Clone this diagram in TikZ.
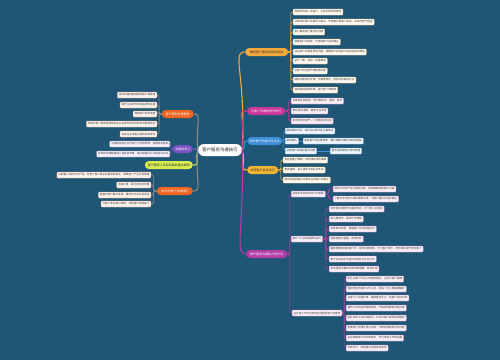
\documentclass[tikz,border=0pt]{standalone}
\usepackage{fontspec}
\setmainfont{Noto Sans CJK SC}
\definecolor{bg}{HTML}{1F5675}
\definecolor{cO}{HTML}{F2A73B}
\definecolor{cM}{HTML}{C9379A}
\definecolor{cB}{HTML}{3D8FD8}
\definecolor{cY}{HTML}{F3B534}
\definecolor{cP}{HTML}{B43DA8}
\definecolor{cR}{HTML}{F06522}
\definecolor{cV}{HTML}{7B52C4}
\definecolor{cG}{HTML}{D8EB4F}
\definecolor{cL}{HTML}{8E8A86}
\begin{document}
\begin{tikzpicture}[x=1pt,y=-1pt,
 leaf/.style={draw=#1!60, line width=0.25pt, fill=#1!8!white, rounded corners=0.8pt, inner xsep=1.5pt, inner ysep=0pt, minimum height=6pt, font=\fontsize{2.6}{3}\selectfont, text=black!75},
 mainnode/.style={fill=#1, rounded corners=4pt, inner xsep=2.5pt, inner ysep=0pt, minimum height=8pt, font=\fontsize{3}{4}\selectfont, text=white},
 br/.style={draw=#1, line width=0.6pt, rounded corners=1.5pt},
 lk/.style={draw=#1, line width=1.1pt}]
\useasboundingbox (0,0) rectangle (500,360);
\fill[bg] (0,0) rectangle (500,360);

% center
\node[fill=white, rounded corners=6pt, minimum height=12pt, minimum width=44pt, inner sep=1pt, font=\fontsize{4.4}{5}\selectfont, text=black!85] (C) at (220,150) {客户服务沟通技巧};

% main nodes right
\node[mainnode=cO, text=black!80, anchor=west, minimum width=43pt] (O) at (245,52) {做好客户服务的基本原则};
\node[mainnode=cM, anchor=west, minimum width=38pt] (M) at (247,111) {与客户沟通的语言技巧};
\node[mainnode=cB, anchor=west, minimum width=35pt] (B) at (247,141) {倾听客户的技巧与方法};
\node[mainnode=cY, text=black!80, anchor=west, minimum width=31pt] (Y) at (247,170) {处理客户投诉技巧};
\node[mainnode=cP, anchor=west, minimum width=41pt] (P) at (246,254) {提升服务沟通能力的方法};
% main nodes left
\node[mainnode=cR, anchor=east, minimum width=32pt] (R) at (194,114) {客户服务的重要性};
\node[mainnode=cV, anchor=east, minimum width=20pt] (V) at (193,149) {沟通的意义};
\node[mainnode=cG, text=black!80, anchor=east, minimum width=48pt] (G) at (193,165) {客户服务人员应具备的基本素质};
\node[mainnode=cR, anchor=east, minimum width=36pt] (L) at (193,191) {常见的客户沟通误区};

% center links
\draw[lk=cO] (C.east) .. controls +(4,-75) and +(-14,0) .. (O.west);
\draw[lk=cM] (C.east) .. controls +(4,-35) and +(-12,0) .. (M.west);
\draw[lk=cB] (C.east) .. controls +(5,-5) and +(-5,0) .. (B.west);
\draw[lk=cY] (C.east) .. controls +(4,14) and +(-8,0) .. (Y.west);
\draw[lk=cP] (C.east) .. controls +(2,80) and +(-12,0) .. (P.west);
\draw[lk=cL] (C.west) .. controls +(-2,-28) and +(8,0) .. (R.east);
\draw[lk=cV] (C.west) -- (V.east);
\draw[lk=cG] (C.west) .. controls +(-3,12) and +(8,0) .. (G.east);
\draw[lk=cL] (C.west) .. controls +(-3,32) and +(10,0) .. (L.east);

% orange top leaves
\node[leaf=cO, anchor=west] (o1) at (293,12) {热情对待每一位客户，主动问候保持微笑};
\node[leaf=cO, anchor=west] (o2) at (293,22) {认真倾听客户的需求与意见，不随意打断客户讲话，并及时给予回应};
\node[leaf=cO, anchor=west] (o3) at (293,32) {耐心解答客户提出的问题};
\node[leaf=cO, anchor=west] (o4) at (293,42) {尊重客户的选择，不强迫客户接受建议};
\node[leaf=cO, anchor=west] (o5) at (293,52) {站在客户的角度思考问题，理解客户的感受与处境并提供帮助};
\node[leaf=cO, anchor=west] (o6) at (293,61) {言行一致，说到一定要做到};
\node[leaf=cO, anchor=west] (o7) at (293,71) {对客户的信息严格保密处理};
\node[leaf=cO, anchor=west] (o8) at (293,80) {遇到问题及时反馈，不推诿责任，积极寻找解决办法};
\node[leaf=cO, anchor=west] (o9) at (293,90) {持续跟进服务效果，提升客户满意度};
\foreach \i in {1,...,9} \draw[br=cO] (O.east) -- ++(2.5,0) |- (o\i.west);

% magenta leaves
\node[leaf=cM, anchor=west] (m1) at (291,101) {多使用礼貌用语，语气要亲切、温和、自然};
\node[leaf=cM, anchor=west] (m2) at (291,111) {表达简洁清晰，避免专业术语};
\node[leaf=cM, anchor=west] (m3) at (291,121) {多用肯定的语气，少用否定的词语};
\foreach \i in {1,2,3} \draw[br=cM] (M.east) -- ++(3,0) |- (m\i.west);

% blue leaves
\node[leaf=cB, anchor=west] (b1) at (285,131) {保持眼神交流，适时点头表示在认真倾听};
\node[leaf=cB, anchor=west] (b2) at (285,141) {复述确认};
\node[leaf=cB, anchor=west] (b3) at (285,151) {记录客户反映的重点问题};
\node[leaf=cB, anchor=west] (b2c) at (303,141) {复述客户的主要意思，确认理解正确无误后再回复};
\node[leaf=cB, anchor=west] (b3c) at (330,151) {便于后续跟进与及时处理};
\foreach \i in {1,2,3} \draw[br=cB] (B.east) -- ++(1.5,0) |- (b\i.west);
\draw[br=cB] (b2.east) -- (b2c.west);
\draw[br=cB] (b3.east) -- (b3c.west);

% yellow leaves
\node[leaf=cY, anchor=west] (y1) at (283,160) {先处理客户情绪，再处理具体的事情};
\node[leaf=cY, anchor=west] (y2) at (283,170) {真诚道歉，承认服务中存在的不足};
\node[leaf=cY, anchor=west] (y3) at (283,180) {提出合理的解决方案并征求客户的意见};
\foreach \i in {1,2,3} \draw[br=cY] (Y.east) -- ++(2.5,0) |- (y\i.west);

% bottom purple
\node[leaf=cP, anchor=west] (s1) at (291,194) {加强专业知识的学习与积累};
\node[leaf=cP, anchor=west] (s2) at (291,239) {提升个人的沟通表达能力};
\node[leaf=cP, anchor=west] (s3) at (292,313) {在日常工作中培养良好的服务意识与素养};
\foreach \i in {1,2,3} \draw[br=cP] (P.east) -- ++(2.5,0) |- (s\i.west);

\node[leaf=cP, anchor=west] (a1) at (333,189) {熟悉公司的产品与服务内容，能够准确回答客户问题};
\node[leaf=cP, anchor=west] (a2) at (333,199) {了解行业动态与相关政策法规，为客户提供专业的建议};
\foreach \i in {1,2} \draw[br=cP] (s1.east) -- ++(3,0) |- (a\i.west);

\node[leaf=cP, anchor=west] (e1) at (329,209) {多参加沟通技巧方面的培训，学习他人的经验};
\node[leaf=cP, anchor=west] (e2) at (329,219) {练习普通话，保持吐字清晰};
\node[leaf=cP, anchor=west] (e3) at (329,229) {学会察言观色，根据客户反应调整方式};
\node[leaf=cP, anchor=west] (e4) at (329,239) {控制语速与音量，语调平和};
\node[leaf=cP, anchor=west] (e5) at (329,249) {遇到情绪激动的客户时，保持冷静克制，不与客户争吵，用平和的语气安抚客户};
\node[leaf=cP, anchor=west] (e6) at (329,259) {善于总结每次沟通中的得失与不足之处};
\node[leaf=cP, anchor=west] (e7) at (329,269) {多向经验丰富的优秀同事请教，取长补短};
\foreach \i in {1,...,7} \draw[br=cP] (s2.east) -- ++(3,0) |- (e\i.west);

\node[leaf=cP, anchor=west] (d1) at (346,279) {树立以客户为中心的服务理念，主动为客户着想};
\node[leaf=cP, anchor=west] (d2) at (346,289) {保持积极乐观的工作心态，把每一件小事做细做好};
\node[leaf=cP, anchor=west] (d3) at (346,298) {注意个人仪容仪表，着装整洁大方，给客户良好印象};
\node[leaf=cP, anchor=west] (d4) at (346,308) {遵守公司的各项规章制度，严格按照服务流程办事};
\node[leaf=cP, anchor=west] (d5) at (346,318) {团队成员之间互相配合，共同为客户提供优质服务};
\node[leaf=cP, anchor=west] (d6) at (346,328) {定期进行自我反思与总结，不断改进服务中的问题};
\node[leaf=cP, anchor=west] (d7) at (346,338) {主动收集客户的反馈意见，作为改进工作的依据};
\node[leaf=cP, anchor=west] (d8) at (346,348) {不断学习，持续提升自身综合素质};
\foreach \i in {1,...,8} \draw[br=cP] (s3.east) -- ++(2,0) |- (d\i.west);

% left orange-red leaves
\node[leaf=cR, anchor=east] (r1) at (157,95) {良好的服务能够提高客户满意度};
\node[leaf=cR, anchor=east] (r2) at (157,105) {提升企业的形象和品牌知名度};
\node[leaf=cR, anchor=east] (r3) at (157,114) {增强客户的忠诚度};
\node[leaf=cR, anchor=east] (r4) at (157,124) {优质的客户服务能够帮助企业在激烈的市场竞争中脱颖而出};
\node[leaf=cR, anchor=east] (r5) at (157,134) {促进企业销售业绩的持续增长};
\foreach \i in {1,...,5} \draw[br=cL] (R.west) -- ++(-2.5,0) |- (r\i.east);

% left purple leaves
\node[leaf=cV, anchor=east] (v1) at (170,144) {沟通是连接企业与客户之间的桥梁，是服务的基础};
\node[leaf=cV, anchor=east] (v2) at (170,154) {有效的沟通能够减少误会和矛盾，建立起彼此之间的信任关系};
\foreach \i in {1,2} \draw[br=cV] (V.west) -- ++(-1.5,0) |- (v\i.east);

% left orange leaves
\node[leaf=cR, anchor=east] (l1) at (151,175) {只顾着介绍自己的产品，忽略了客户真正的需求和想法，导致客户产生反感情绪};
\node[leaf=cR, anchor=east] (l2) at (151,185) {态度冷漠，缺乏应有的热情};
\node[leaf=cR, anchor=east] (l3) at (151,195) {随意向客户做出承诺，事后却无法兑现承诺};
\node[leaf=cR, anchor=east] (l4) at (151,204) {与客户争论谁对谁错，试图强行说服客户};
\foreach \i in {1,...,4} \draw[br=cL] (L.west) -- ++(-3,0) |- (l\i.east);
\end{tikzpicture}
\end{document}
